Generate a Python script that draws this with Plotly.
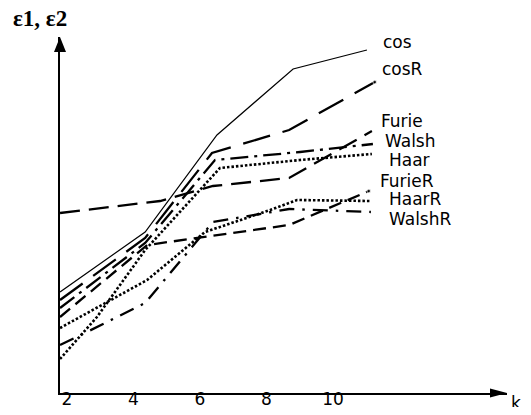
import plotly.graph_objects as go

# ---- data (y in arbitrary units) ----
x_ticks = [2, 4, 6, 8, 10]
tick_labels = ["2", "4", "6", "8", "10"]

cos_x = [1.79, 4.35, 6.51, 8.80, 11.02]
cos_y = [10.1, 16.1, 25.8, 32.4, 34.3]

cosR_x = [1.79, 4.35, 6.36, 8.68, 11.26]
cosR_y = [9.3, 15.5, 24.0, 26.3, 31.1]

furie_x = [1.79, 4.80, 6.39, 8.68, 11.17]
furie_y = [18.0, 19.2, 20.7, 21.5, 26.2]

walsh_x = [1.79, 4.35, 6.45, 9.01, 11.20]
walsh_y = [8.5, 15.0, 23.3, 24.1, 24.9]

haar_x = [1.79, 2.90, 4.35, 6.60, 9.01, 11.17]
haar_y = [3.4, 7.6, 14.3, 22.5, 23.3, 23.9]

furieR_x = [1.79, 4.41, 8.68, 10.45, 11.08]
furieR_y = [7.6, 14.8, 16.8, 19.3, 20.2]

haarR_x = [1.79, 4.41, 6.15, 8.11, 8.92, 11.11]
haarR_y = [6.5, 11.3, 16.1, 18.3, 19.3, 19.2]

walshR_x = [1.79, 2.60, 4.35, 6.39, 8.68, 11.14]
walshR_y = [4.8, 6.1, 9.0, 17.1, 18.4, 18.1]

names = ["cos", "cosR", "Furie", "Walsh", "Haar", "FurieR", "HaarR", "WalshR"]
label_x = [11.44, 11.41, 11.38, 11.50, 11.62, 11.35, 11.62, 11.62]
label_y = [35.1, 32.4, 27.2, 25.2, 23.35, 21.2, 19.4, 17.4]

series = [
    (cos_x, cos_y, "solid", 1.2, False),
    (cosR_x, cosR_y, "28px,13px", 2.3, True),
    (furie_x, furie_y, "20px,9px", 2.3, False),
    (walsh_x, walsh_y, "18px,6px,3px,6px", 2.3, False),
    (haar_x, haar_y, "2.5px,2px", 2.6, False),
    (furieR_x, furieR_y, "13px,7px", 2.3, True),
    (haarR_x, haarR_y, "2.5px,2px", 2.6, False),
    (walshR_x, walshR_y, "15px,8px,2.5px,8px", 2.3, False),
]

fig = go.Figure()
for (xs, ys, dash, w, enddot), nm in zip(series, names):
    sizes = [0] * (len(xs) - 1) + ([4] if enddot else [0])
    fig.add_trace(go.Scatter(
        x=xs, y=ys, name=nm, mode="lines+markers" if enddot else "lines",
        line=dict(color="black", width=w, dash=dash),
        marker=dict(size=sizes, color="black"),
        showlegend=False, hoverinfo="skip"))

lab_font = dict(family="DejaVu Sans", size=17, color="black")
for nm, lx, ly in zip(names, label_x, label_y):
    fig.add_annotation(x=lx, y=ly, xref="x", yref="y", text=nm, showarrow=False,
                       xanchor="left", yanchor="middle", font=lab_font)

# axis title texts
fig.add_annotation(x=-0.0447, y=1.0506, xref="paper", yref="paper", text="<b>ε1, ε2</b>",
                   showarrow=False, xanchor="center", yanchor="middle",
                   font=dict(family="Liberation Serif", size=23, color="black"))
fig.add_annotation(x=1.0201, y=-0.028, xref="paper", yref="paper", text="k",
                   showarrow=False, xanchor="center", yanchor="middle",
                   font=dict(family="DejaVu Sans", size=17, color="black"))

# arrow heads
fig.add_shape(type="path", xref="paper", yref="paper", xsizemode="pixel", ysizemode="pixel",
              xanchor=1, yanchor=0, path="M0,0 L-17,4.5 L-17,-4.5 Z",
              fillcolor="black", line=dict(color="black", width=0))
fig.add_shape(type="path", xref="paper", yref="paper", xsizemode="pixel", ysizemode="pixel",
              xanchor=0, yanchor=1, path="M0,0 L-6,-15 L6,-15 Z",
              fillcolor="black", line=dict(color="black", width=0))

# page body keeps an 8px margin, so the figure is 16px smaller than the window
fig.update_layout(
    width=515, height=399,
    margin=dict(l=52, r=16, t=29, b=14),
    paper_bgcolor="white", plot_bgcolor="white",
    xaxis=dict(range=[1.789, 15.233], tickvals=x_ticks, ticktext=tick_labels,
               showgrid=False, zeroline=False, showline=True, linecolor="black",
               linewidth=2, ticks="", ticklabelstandoff=-10, automargin=False,
               tickfont=dict(family="DejaVu Sans", size=17, color="black")),
    yaxis=dict(range=[0, 35.6], showgrid=False, zeroline=False, showline=True,
               linecolor="black", linewidth=2, showticklabels=False, ticks="",
               automargin=False),
)

fig.write_html("out.html")
